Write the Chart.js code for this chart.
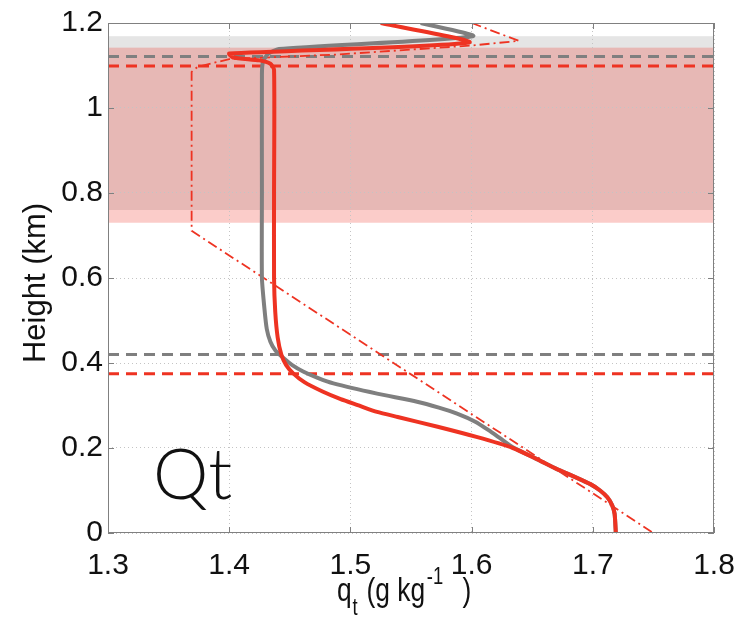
<!DOCTYPE html>
<html>
<head>
<meta charset="utf-8">
<title>Qt profile</title>
<script src="https://cdn.jsdelivr.net/npm/chart.js@4.4.0/dist/chart.umd.min.js"></script>
<style>
  html, body { margin: 0; padding: 0; background: #ffffff; }
  #wrap { width: 752px; height: 620px; }
</style>
</head>
<body>
<div id="wrap"><canvas id="qtChart" width="752" height="620"></canvas></div>
<script>
// axis ticks
const xTicks = [1.3, 1.4, 1.5, 1.6, 1.7, 1.8];
const xTickLabels = ["1.3", "1.4", "1.5", "1.6", "1.7", "1.8"];
const yTicks = [0, 0.2, 0.4, 0.6, 0.8, 1.0, 1.2];
const yTickLabels = ["0", "0.2", "0.4", "0.6", "0.8", "1", "1.2"];

// red solid profile (height km, qt g/kg)
const redHeight = [1.2, 1.154, 1.128, 1.119, 1.112, 1.104, 1.09, 0.80, 0.60, 0.52, 0.46, 0.42, 0.395, 0.375, 0.355, 0.333, 0.315, 0.301, 0.285, 0.273, 0.25, 0.226, 0.20, 0.175, 0.151, 0.131, 0.115, 0.100, 0.084, 0.065, 0.045, 0.0];
const redQt = [1.525, 1.598, 1.400, 1.403, 1.425, 1.434, 1.437, 1.437, 1.437, 1.438, 1.440, 1.443, 1.447, 1.453, 1.462, 1.477, 1.492, 1.506, 1.522, 1.539, 1.572, 1.604, 1.634, 1.653, 1.670, 1.686, 1.698, 1.706, 1.712, 1.716, 1.718, 1.719];

// gray solid profile
const grayHeight = [1.2, 1.169, 1.139, 1.127, 1.11, 1.08, 0.80, 0.60, 0.53, 0.48, 0.45, 0.43, 0.411, 0.395, 0.38, 0.365, 0.352, 0.328, 0.309, 0.295, 0.281, 0.262, 0.242, 0.222, 0.202, 0.175, 0.151, 0.131, 0.115, 0.100, 0.084, 0.065, 0.045, 0.0];
const grayQt = [1.558, 1.601, 1.441, 1.432, 1.428, 1.427, 1.427, 1.427, 1.429, 1.431, 1.434, 1.438, 1.445, 1.452, 1.461, 1.473, 1.486, 1.522, 1.555, 1.573, 1.588, 1.603, 1.614, 1.624, 1.634, 1.653, 1.670, 1.686, 1.698, 1.706, 1.712, 1.716, 1.718, 1.719];

// red dash-dot (initial profile)
const initHeight = [1.2, 1.158, 1.147, 1.126, 1.12, 1.115, 1.097, 1.085, 0.711, 0.0];
const initQt = [1.600, 1.639, 1.600, 1.490, 1.440, 1.400, 1.374, 1.369, 1.369, 1.750];

// inversion heights (dashed) and cloud layers (shaded)
const grayLevels = [1.121, 0.420];
const redLevels = [1.099, 0.375];
const grayCloud = [0.760, 1.169];
const redCloud = [0.730, 1.142];

const RED = "#ee3322";
const GRAY = "#7f7f7f";
const FONT = "'Liberation Sans', Arial, sans-serif";

function toPoints(xs, ys) {
  return xs.map((x, i) => ({ x: x, y: ys[i] }));
}

function levelLine(level) {
  return [{ x: xTicks[0], y: level }, { x: xTicks[xTicks.length - 1], y: level }];
}

const decorPlugin = {
  id: "decor",
  beforeDraw(chart) {
    const { ctx, chartArea, scales } = chart;
    const y = scales.y;
    ctx.save();
    ctx.fillStyle = "#ffffff";
    ctx.fillRect(0, 0, chart.width, chart.height);
    ctx.fillStyle = "rgba(0, 0, 0, 0.10)";
    let top = y.getPixelForValue(grayCloud[1]);
    let bottom = y.getPixelForValue(grayCloud[0]);
    ctx.fillRect(chartArea.left, top, chartArea.right - chartArea.left, bottom - top);
    ctx.fillStyle = "rgba(240, 40, 30, 0.24)";
    top = y.getPixelForValue(redCloud[1]);
    bottom = y.getPixelForValue(redCloud[0]);
    ctx.fillRect(chartArea.left, top, chartArea.right - chartArea.left, bottom - top);
    ctx.restore();
  },
  afterDraw(chart) {
    const { ctx, chartArea, scales } = chart;
    ctx.save();
    // box
    ctx.strokeStyle = "#808080";
    ctx.lineWidth = 1;
    ctx.strokeRect(chartArea.left + 0.5, chartArea.top + 0.5, chartArea.right - chartArea.left - 1, chartArea.bottom - chartArea.top - 1);
    // inward ticks
    ctx.beginPath();
    xTicks.forEach((v) => {
      const px = Math.round(scales.x.getPixelForValue(v)) + 0.5;
      ctx.moveTo(px, chartArea.bottom);
      ctx.lineTo(px, chartArea.bottom - 6);
      ctx.moveTo(px, chartArea.top);
      ctx.lineTo(px, chartArea.top + 6);
    });
    yTicks.forEach((v) => {
      const py = Math.round(scales.y.getPixelForValue(v)) + 0.5;
      ctx.moveTo(chartArea.left, py);
      ctx.lineTo(chartArea.left + 6, py);
      ctx.moveTo(chartArea.right, py);
      ctx.lineTo(chartArea.right - 6, py);
    });
    ctx.stroke();

    ctx.fillStyle = "#111111";
    // y title
    ctx.save();
    ctx.translate(45, (chartArea.top + chartArea.bottom) / 2 + 5);
    ctx.rotate(-Math.PI / 2);
    ctx.font = "31px " + FONT;
    ctx.textAlign = "center";
    ctx.textBaseline = "alphabetic";
    ctx.fillText("Height (km)", 0, 0);
    ctx.restore();

    // x title: q_t (g kg^-1)
    ctx.save();
    ctx.textBaseline = "alphabetic";
    ctx.textAlign = "left";
    const base = 601;
    ctx.translate(337, 0);
    ctx.scale(0.8, 1);
    let cx = 0;
    ctx.font = "33px " + FONT;
    ctx.fillText("q", cx, base);
    cx += ctx.measureText("q").width;
    ctx.font = "23px " + FONT;
    ctx.fillText("t", cx + 1, base + 14);
    cx += ctx.measureText("t").width + 3;
    ctx.font = "33px " + FONT;
    ctx.fillText(" (g kg", cx, base);
    cx += ctx.measureText(" (g kg").width;
    ctx.font = "23px " + FONT;
    ctx.fillText("-1", cx + 2, base - 17);
    cx += ctx.measureText("-1").width + 26;
    ctx.font = "33px " + FONT;
    ctx.fillText(")", cx, base);
    ctx.restore();

    // panel label
    ctx.font = "300 70px Lato, 'Open Sans', sans-serif";
    ctx.textAlign = "left";
    ctx.textBaseline = "alphabetic";
    ctx.fillText("Qt", 153, 499);
    ctx.restore();
  },
};

const chart = new Chart(document.getElementById("qtChart"), {
  type: "scatter",
  data: {
    datasets: [
      {
        label: "gray inversion",
        data: grayLevels.flatMap((l) => [...levelLine(l), { x: null, y: null }]),
        showLine: true,
        spanGaps: false,
        borderColor: GRAY,
        borderWidth: 3,
        borderDash: [11, 7],
        pointRadius: 0,
        order: 6,
      },
      {
        label: "red inversion",
        data: redLevels.flatMap((l) => [...levelLine(l), { x: null, y: null }]),
        showLine: true,
        spanGaps: false,
        borderColor: RED,
        borderWidth: 3,
        borderDash: [11, 7],
        pointRadius: 0,
        order: 5,
      },
      {
        label: "initial",
        data: toPoints(initQt, initHeight),
        showLine: true,
        borderColor: RED,
        borderWidth: 1.8,
        borderDash: [10, 4, 2, 4],
        pointRadius: 0,
        order: 4,
      },
      {
        label: "gray",
        data: toPoints(grayQt, grayHeight),
        showLine: true,
        tension: 0.2,
        borderColor: GRAY,
        borderWidth: 4,
        pointRadius: 0,
        order: 3,
      },
      {
        label: "red",
        data: toPoints(redQt, redHeight),
        showLine: true,
        tension: 0.2,
        borderColor: RED,
        borderWidth: 4,
        pointRadius: 0,
        order: 1,
      },
    ],
  },
  options: {
    responsive: false,
    animation: false,
    events: [],
    layout: { padding: { left: 0, right: 38, top: 18, bottom: 0 } },
    plugins: { legend: { display: false }, tooltip: { enabled: false } },
    scales: {
      x: {
        type: "linear",
        min: 1.3,
        max: 1.8,
        afterBuildTicks: (scale) => { scale.ticks = xTicks.map((v) => ({ value: v })); },
        afterFit: (scale) => { scale.height = 87; },
        ticks: {
          callback: (value, index) => xTickLabels[index],
          color: "#111111",
          font: { family: FONT, size: 30 },
          padding: 15,
          maxRotation: 0,
        },
        grid: { color: "#c4c4c4", lineWidth: 1, drawTicks: false },
        border: { display: false, dash: [1, 3] },
      },
      y: {
        type: "linear",
        min: 0,
        max: 1.2,
        afterBuildTicks: (scale) => { scale.ticks = yTicks.map((v) => ({ value: v })); },
        afterFit: (scale) => { scale.width = 108; },
        ticks: {
          callback: (value, index) => yTickLabels[index],
          color: "#111111",
          font: { family: FONT, size: 30 },
          padding: 5,
        },
        grid: { color: "#c4c4c4", lineWidth: 1, drawTicks: false },
        border: { display: false, dash: [1, 3] },
      },
    },
  },
  plugins: [decorPlugin],
});
</script>
</body>
</html>
